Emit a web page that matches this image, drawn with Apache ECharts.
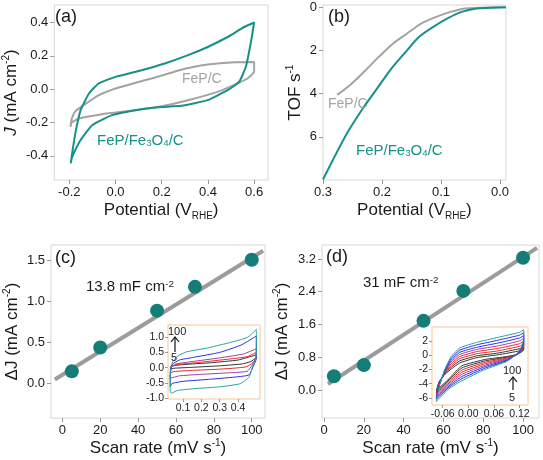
<!DOCTYPE html>
<html><head><meta charset="utf-8">
<script src="https://cdn.jsdelivr.net/npm/echarts@6/dist/echarts.min.js"></script>
<style>html,body{margin:0;padding:0;background:#fff}#c{width:543px;height:460px}</style>
</head><body><div id="c"></div>
<script>
// ---- data ----
const cvFePC = [[-0.195,-0.226],[-0.19,-0.18],[-0.175,-0.135],[-0.144,-0.102],[-0.072,-0.036],[0.0,0.004],[0.08,0.036],[0.156,0.064],[0.23,0.094],[0.3,0.122],[0.37,0.142],[0.442,0.154],[0.514,0.162],[0.6,0.163],[0.6,0.104],[0.571,0.064],[0.514,0.026],[0.442,-0.016],[0.314,-0.066],[0.199,-0.102],[0.085,-0.126],[-0.058,-0.15],[-0.158,-0.176],[-0.19,-0.2],[-0.195,-0.226]];
const cvFePFe3O4C = [[-0.194,-0.445],[-0.185,-0.36],[-0.172,-0.25],[-0.151,-0.126],[-0.115,-0.026],[-0.073,0.034],[0.0,0.074],[0.113,0.114],[0.213,0.154],[0.314,0.204],[0.399,0.253],[0.485,0.313],[0.557,0.373],[0.6,0.40],[0.585,0.274],[0.564,0.134],[0.535,0.044],[0.485,-0.006],[0.399,-0.066],[0.285,-0.1],[0.185,-0.108],[0.085,-0.126],[-0.015,-0.156],[-0.101,-0.216],[-0.151,-0.305],[-0.187,-0.405],[-0.194,-0.445]];
const tofFePC = [[0.276,4.06],[0.254,3.6],[0.23,2.98],[0.205,2.29],[0.181,1.68],[0.157,1.21],[0.133,0.75],[0.108,0.45],[0.084,0.22],[0.06,0.06],[0.031,0.03],[-0.01,0.0]];
const tofFePFe3O4C = [[0.3,7.98],[0.283,7.06],[0.259,5.83],[0.234,4.75],[0.21,3.83],[0.186,2.91],[0.162,2.14],[0.137,1.37],[0.113,0.91],[0.089,0.52],[0.065,0.22],[0.04,0.06],[0.016,0.03],[-0.01,0.0]];
const scanRates = [5, 20, 50, 70, 100];
const deltaJc = [0.15, 0.44, 0.89, 1.18, 1.51];
const deltaJd = [0.34, 0.61, 1.69, 2.42, 3.23];
const fitC = [[-4, 0.05], [106, 1.62]];
const fitD = [[2, 0.15], [107, 3.47]];
// inset (c): CV loops at 5, 20, 50, 70, 100 mV/s
const insetCcolors = ['#333333', '#e8262a', '#9b3fa3', '#2a2fe0', '#2aa3a0'];
const insetC = [
  [[0.03,-0.05],[0.035,0.05],[0.1,0.1],[0.25,0.16],[0.4,0.25],[0.5,0.42],[0.5,0.35],[0.47,0.2],[0.42,0.12],[0.3,0.06],[0.15,0.01],[0.05,-0.02],[0.03,-0.05]],
  [[0.03,-0.18],[0.035,0.02],[0.07,0.1],[0.2,0.18],[0.35,0.28],[0.45,0.36],[0.5,0.5],[0.5,0.35],[0.48,0.15],[0.44,0.02],[0.3,-0.05],[0.15,-0.09],[0.05,-0.13],[0.03,-0.18]],
  [[0.03,-0.35],[0.035,0.0],[0.06,0.12],[0.15,0.2],[0.3,0.32],[0.43,0.45],[0.5,0.62],[0.5,0.35],[0.48,0.1],[0.45,-0.12],[0.35,-0.17],[0.2,-0.22],[0.08,-0.27],[0.03,-0.35]],
  [[0.03,-0.62],[0.03,-0.2],[0.04,0.1],[0.08,0.25],[0.15,0.33],[0.3,0.5],[0.42,0.75],[0.5,1.04],[0.5,0.3],[0.48,0.0],[0.46,-0.24],[0.4,-0.3],[0.25,-0.38],[0.1,-0.45],[0.04,-0.52],[0.03,-0.62]],
  [[0.03,-0.8],[0.03,-0.3],[0.04,0.15],[0.07,0.38],[0.12,0.52],[0.23,0.64],[0.36,0.83],[0.45,0.99],[0.5,1.25],[0.5,0.4],[0.48,0.05],[0.46,-0.32],[0.41,-0.53],[0.3,-0.63],[0.16,-0.69],[0.07,-0.75],[0.035,-0.84],[0.03,-0.8]]
];
// inset (d): CV loops, 5 -> 100 mV/s (potential grid shared, one current list per loop)
const insetDcolors = ['#333333', '#333333', '#e8262a', '#e8262a', '#9b3fa3', '#2a2fe0', '#2a2fe0', '#2aa3a0'];
const insetDpotential = [-0.075,-0.068,-0.055,-0.04,-0.02,0.02,0.07,0.12,0.13,0.13,0.125,0.114,0.09,0.04,-0.015,-0.045,-0.075];
const insetD = [
  [-5.0,-3.7,-2.7,-1.95,-1.1,-0.35,0.05,0.6,0.95, 0.7,0.45,0.1,-0.2,-0.6,-1.5,-3.3,-5.0],
  [-5.2,-3.8,-2.6,-1.7,-0.8,-0.1,0.3,0.9,1.25, 0.9,0.55,0.1,-0.3,-0.8,-1.8,-3.5,-5.2],
  [-5.4,-3.9,-2.5,-1.45,-0.5,0.2,0.6,1.25,1.6, 1.1,0.65,0.1,-0.4,-1.0,-2.1,-3.7,-5.4],
  [-5.6,-4.0,-2.4,-1.2,-0.2,0.5,0.95,1.6,1.95, 1.3,0.75,0.1,-0.5,-1.2,-2.4,-3.9,-5.6],
  [-5.8,-4.1,-2.3,-0.95,0.1,0.8,1.3,2.0,2.35, 1.5,0.85,0.1,-0.6,-1.4,-2.7,-4.1,-5.8],
  [-6.0,-4.2,-2.2,-0.7,0.4,1.1,1.7,2.4,2.75, 1.8,0.95,0.1,-0.7,-1.6,-3.0,-4.3,-6.0],
  [-6.2,-4.3,-2.1,-0.45,0.7,1.45,2.1,2.8,3.15, 2.0,1.05,0.15,-0.8,-1.8,-3.3,-4.5,-6.2],
  [-6.5,-4.4,-2.0,-0.2,1.0,1.8,2.5,3.2,3.55, 2.3,1.2,0.2,-0.9,-2.0,-3.6,-4.7,-6.5]
];
// tick labels
const ticksAx = [-0.2, 0.0, 0.2, 0.4, 0.6];
const ticksAy = [-0.4, -0.2, 0.0, 0.2, 0.4];
const ticksBx = [0.3, 0.2, 0.1, 0.0];
const ticksBy = [0, 2, 4, 6];
const ticksCx = [0, 20, 40, 60, 80, 100];
const ticksCy = [0.0, 0.5, 1.0, 1.5];
const ticksDx = [0, 20, 40, 60, 80, 100];
const ticksDy = [0.0, 0.8, 1.6, 2.4, 3.2];
const ticksCix = [0.1, 0.2, 0.3, 0.4];
const ticksCiy = [-1.0, -0.5, 0.0, 0.5, 1.0];
const ticksDix = [-0.06, 0.00, 0.06, 0.12];
const ticksDiy = [-6, -4, -2, 0, 2];

// ---- styling ----
const FONT = 'Liberation Sans';
const TEAL = '#17908a';
const GRAY = '#a3a3a3';
const DOT = '#157c77';
const TXT = '#1a1a1a';
const richAxis = {
  sub: {fontSize: 10, fontFamily: FONT, color: TXT, verticalAlign: 'bottom', lineHeight: 8},
  sup: {fontSize: 10, fontFamily: FONT, color: TXT, verticalAlign: 'top', lineHeight: 10},
  it: {fontSize: 17, fontFamily: FONT, color: TXT, fontStyle: 'italic', lineHeight: 21}
};
function axis(grid, min, max, ticks, dec, o) {
  o = o || {};
  return Object.assign({
    type: 'value', gridIndex: grid, min: min, max: max,
    splitLine: {show: false},
    axisLine: {show: false, onZero: false},
    axisTick: {show: true, inside: false, length: o.tickLen || 4, customValues: ticks, lineStyle: {color: '#9a9a9a', width: 1}},
    axisLabel: {customValues: ticks, fontSize: o.fs || 13, fontFamily: FONT, color: TXT, margin: o.margin || 6,
      formatter: v => Number(v).toFixed(dec)},
    nameLocation: 'middle',
    nameTextStyle: {fontSize: 17, fontFamily: FONT, color: TXT, lineHeight: 21, rich: richAxis}
  }, o.extra || {});
}

const chart = echarts.init(document.getElementById('c'), null, {renderer: 'canvas'});

const grids = [
  {left: 52, top: 5, width: 216, height: 175},
  {left: 323, top: 5, width: 216, height: 175},
  {left: 51, top: 245, width: 214, height: 177},
  {left: 322, top: 245, width: 217, height: 173},
  {left: 168, top: 325, width: 92, height: 74},
  {left: 432, top: 327, width: 96, height: 78}
].map((g, i) => Object.assign({show: true, borderColor: i >= 4 ? '#f7c796' : '#d6d6d6', borderWidth: 1, backgroundColor: '#fff', z: i >= 4 ? 5 : 0}, g));

const xAxes = [
  axis(0, -0.265, 0.66, ticksAx, 1, {extra: {name: 'Potential (V{sub|RHE})', nameGap: 20}}),
  axis(1, -0.01, 0.3, ticksBx, 1, {extra: {inverse: true, name: 'Potential (V{sub|RHE})', nameGap: 20}}),
  axis(2, -6, 107, ticksCx, 0, {extra: {name: 'Scan rate (mV s{sup|-1})', nameGap: 18}}),
  axis(3, -1, 108, ticksDx, 0, {extra: {name: 'Scan rate (mV s{sup|-1})', nameGap: 20}}),
  axis(4, 0.018, 0.52, ticksCix, 1, {fs: 10.5, tickLen: 3, margin: 4, extra: {z: 6}}),
  axis(5, -0.085, 0.14, ticksDix, 2, {fs: 10.5, tickLen: 3, margin: 4, extra: {z: 6}})
];
const yAxes = [
  axis(0, -0.545, 0.505, ticksAy, 1, {extra: {name: '{it|J} (mA cm{sup|-2})', nameGap: 30}}),
  axis(1, -0.1, 8.0, ticksBy, 0, {extra: {inverse: true, name: 'TOF s{sup|-1}', nameGap: 16}}),
  axis(2, -0.42, 1.69, ticksCy, 1, {extra: {name: '\u0394J (mA cm{sup|-2})', nameGap: 28}}),
  axis(3, -0.68, 3.54, ticksDy, 1, {extra: {name: '\u0394J (mA cm{sup|-2})', nameGap: 29}}),
  axis(4, -1.03, 1.4, ticksCiy, 1, {fs: 10.5, tickLen: 3, margin: 4, extra: {z: 6}}),
  axis(5, -7.0, 3.95, ticksDiy, 0, {fs: 10.5, tickLen: 3, margin: 4, extra: {z: 6}})
];

const series = [];
function ln(xi, data, color, width, smooth, z) {
  series.push({type: 'line', xAxisIndex: xi, yAxisIndex: xi, data: data, showSymbol: false, symbol: 'none',
    smooth: smooth, lineStyle: {color: color, width: width}, z: z || 2, silent: true});
}
ln(0, cvFePC, GRAY, 2, 0.15);
ln(0, cvFePFe3O4C, TEAL, 2, 0.15, 3);
ln(1, tofFePC, GRAY, 2, 0.3);
ln(1, tofFePFe3O4C, TEAL, 2, 0.3, 3);
ln(2, fitC, '#9c9c9c', 4, false);
series.push({type: 'scatter', xAxisIndex: 2, yAxisIndex: 2, data: scanRates.map((s, i) => [s, deltaJc[i]]), symbolSize: 14, itemStyle: {color: DOT, opacity: 1}, z: 4});
ln(3, fitD, '#9c9c9c', 4, false);
series.push({type: 'scatter', xAxisIndex: 3, yAxisIndex: 3, data: scanRates.map((s, i) => [s, deltaJd[i]]), symbolSize: 14, itemStyle: {color: DOT, opacity: 1}, z: 4});
insetC.forEach((d, i) => ln(4, d, insetCcolors[i], 1, 0.15, 10));
insetD.forEach((d, i) => ln(5, insetDpotential.map((v, k) => [v, d[k]]), insetDcolors[i], 1, 0.15, 10));

function txt(left, top, text, size, color, rich) {
  return {type: 'text', left: left, top: top, z: 20, style: {text: text, fill: color, font: size + 'px ' + FONT, rich: rich || {}}};
}
const subRich = (size, color) => ({s: {fontSize: size * 0.65, fontFamily: FONT, fill: color, verticalAlign: 'bottom', lineHeight: size * 0.55},
  p: {fontSize: size * 0.65, fontFamily: FONT, fill: color, verticalAlign: 'top', lineHeight: size * 0.6}});
function arrow(x, y1, y2) {
  return [
    {type: 'line', z: 20, shape: {x1: x, y1: y1, x2: x, y2: y2}, style: {stroke: '#111', lineWidth: 1.2}},
    {type: 'polyline', z: 20, shape: {points: [[x - 4, y2 + 5], [x, y2], [x + 4, y2 + 5]]}, style: {stroke: '#111', lineWidth: 1.2, fill: null}}
  ];
}
const graphic = [
  txt(55, 8, '(a)', 18, TXT),
  txt(328, 8, '(b)', 18, TXT),
  txt(55, 249, '(c)', 18, TXT),
  txt(326, 248, '(d)', 18, TXT),
  txt(182, 72, 'FeP/C', 14, GRAY),
  txt(97, 133, 'FeP/Fe{s|3}O{s|4}/C', 15, TEAL, subRich(15, TEAL)),
  txt(328, 97, 'FeP/C', 14, GRAY),
  txt(356, 143, 'FeP/Fe{s|3}O{s|4}/C', 15, TEAL, subRich(15, TEAL)),
  txt(86, 279, '13.8 mF cm{p|-2}', 15, TXT, subRich(15, TXT)),
  txt(363, 275, '31 mF cm{p|-2}', 15, TXT, subRich(15, TXT)),
  txt(168, 326, '100', 11, TXT),
  txt(171, 352, '5', 11, TXT),
  txt(503, 365, '100', 11, TXT),
  txt(509, 392, '5', 11, TXT)
].concat(arrow(175, 352, 337)).concat(arrow(513, 390, 377));

chart.setOption({
  animation: false,
  backgroundColor: '#fff',
  textStyle: {fontFamily: FONT},
  grid: grids, xAxis: xAxes, yAxis: yAxes, series: series, graphic: graphic
});
</script></body></html>
